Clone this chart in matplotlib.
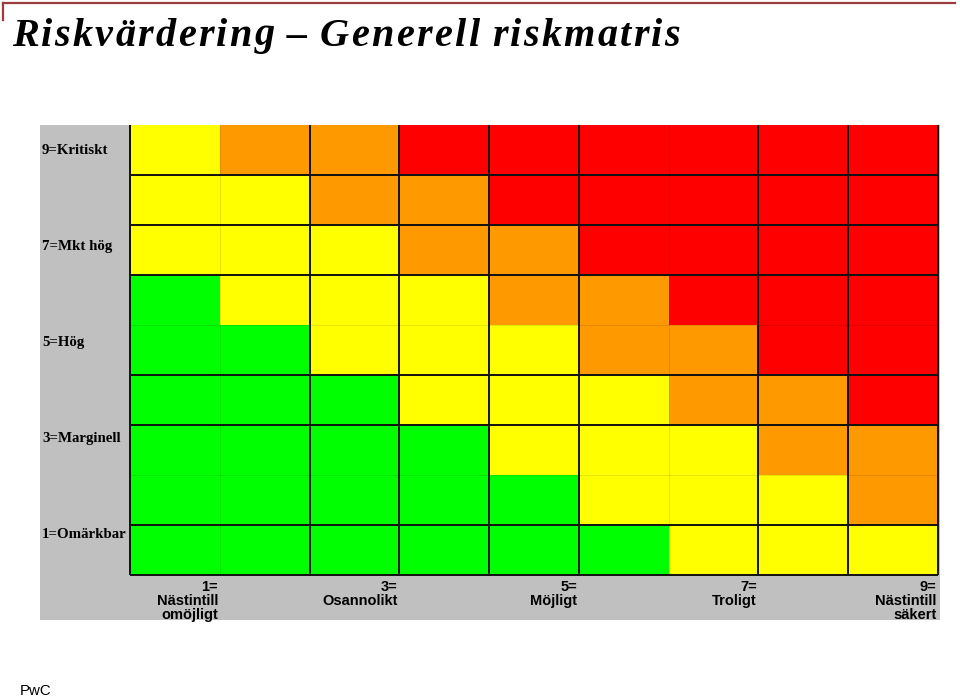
"""
Riskvärdering - generell riskmatris (9x9) med konsekvens mot sannolikhet.
"""

import numpy as np
import matplotlib
matplotlib.use("Agg")
import matplotlib.pyplot as plt
from matplotlib.colors import ListedColormap
from matplotlib.patches import Rectangle
from matplotlib.lines import Line2D

TITLE = "Riskvärdering – Generell riskmatris"
SEVERITY_LABELS = ["9=Kritiskt", "7=Mkt hög", "5=Hög", "3=Marginell", "1=Omärkbar"]
LIKELIHOOD_LABELS = ["1=\nNästintill\nomöjligt", "3=\nOsannolikt", "5=\nMöjligt",
                     "7=\nTroligt", "9=\nNästintill\nsäkert"]
LIKELIHOOD_TICKS = [1, 3, 5, 7, 9]

# riskniva per cell: 0 gron, 1 gul, 2 orange, 3 rod
# rader uppifran (konsekvens 9) och nedat (konsekvens 1)
RISK = [
    [1, 2, 2, 3, 3, 3, 3, 3, 3],
    [1, 1, 2, 2, 3, 3, 3, 3, 3],
    [1, 1, 1, 2, 2, 3, 3, 3, 3],
    [0, 1, 1, 1, 2, 2, 3, 3, 3],
    [0, 0, 1, 1, 1, 2, 2, 3, 3],
    [0, 0, 0, 1, 1, 1, 2, 2, 3],
    [0, 0, 0, 0, 1, 1, 1, 2, 2],
    [0, 0, 0, 0, 0, 1, 1, 1, 2],
    [0, 0, 0, 0, 0, 0, 1, 1, 1],
]
LEVEL_COLORS = ["#00FF00", "#FFFF00", "#FF9900", "#FF0000"]

# linjer i tabellen: svarta och svaga (sammanslagna celler)
BOLD_X = [0, 2, 3, 4, 5, 7, 8, 9]
FAINT_X = [1, 6]
BOLD_Y = [0, 1, 3, 4, 6, 7, 8]
FAINT_Y = [2, 5]

W, H = 960, 700


def main():
    fig = plt.figure(figsize=(W / 100, H / 100), dpi=100)
    fig.patch.set_facecolor("white")

    # rod linje overst
    fig.add_artist(Line2D([3 / W, 955 / W], [1 - 3 / H, 1 - 3 / H],
                          color="#9C3B3B", lw=1.6))
    fig.add_artist(Line2D([3 / W, 3 / W], [1 - 3 / H, 1 - 20 / H],
                          color="#9C3B3B", lw=1.6))

    ax = fig.add_axes([130 / W, 125 / H, 808 / W, 450 / H])
    grid = np.array(RISK)[::-1]
    n = grid.shape[0]

    # gra bakgrund bakom tabell och etiketter
    ax.add_patch(Rectangle((-1.0, -0.9), 10.02, 9.9, facecolor="#C0C0C0",
                           edgecolor="none", clip_on=False, zorder=0))

    ax.pcolormesh(np.arange(n + 1), np.arange(n + 1), grid,
                  cmap=ListedColormap(LEVEL_COLORS), vmin=-0.5, vmax=3.5, zorder=1)

    for x in FAINT_X:
        ax.plot([x, x], [0, n], color="black", alpha=0.12, lw=0.6, zorder=2)
    for y in FAINT_Y:
        ax.plot([0, n], [y, y], color="black", alpha=0.12, lw=0.6, zorder=2)
    for x in BOLD_X:
        ax.plot([x, x], [0, n], color="#111111", lw=1.4, zorder=3,
                solid_capstyle="butt", clip_on=False)
    for y in BOLD_Y:
        ax.plot([0, n], [y, y], color="#111111", lw=1.4, zorder=3,
                solid_capstyle="butt", clip_on=False)

    ax.set_xlim(0, n)
    ax.set_ylim(0, n)
    ax.axis("off")

    # konsekvens-etiketter
    for i, lab in enumerate(SEVERITY_LABELS):
        ypos = 8.5 - i * 1.925
        ax.text(-0.98, ypos, lab, ha="left", va="center", fontsize=10.7,
                fontfamily="Liberation Serif", fontweight="bold", zorder=4)

    # sannolikhets-etiketter
    for x, lab in zip(LIKELIHOOD_TICKS, LIKELIHOOD_LABELS):
        ax.text(x - 0.02, -0.1, lab, ha="right", va="top", multialignment="right",
                fontsize=10.5, fontfamily="Liberation Sans", fontweight="bold",
                linespacing=1.02, zorder=4)

    # titel med spärrad text
    renderer = fig.canvas.get_renderer()
    props = dict(fontsize=29, fontfamily="Liberation Serif", fontweight="bold",
                 fontstyle="italic")
    widths = []
    for ch in TITLE:
        if ch == " ":
            widths.append(8.0)
            continue
        t = fig.text(0, 0, ch, **props)
        widths.append(t.get_window_extent(renderer).width)
        t.remove()
    x0, x1 = 12, 680
    track = (x1 - x0 - sum(widths)) / (len(TITLE) - 1)
    x = x0
    for ch, w in zip(TITLE, widths):
        if ch != " ":
            fig.text(x / W, 1 - 36 / H, ch, ha="left", va="center", **props)
        x += w + track

    fig.text(20 / W, 1 - 691 / H, "PwC", ha="left", va="center", fontsize=10.8,
             fontfamily="Liberation Sans")

    fig.savefig("out.png", dpi=100)
    plt.close(fig)


if __name__ == "__main__":
    main()
